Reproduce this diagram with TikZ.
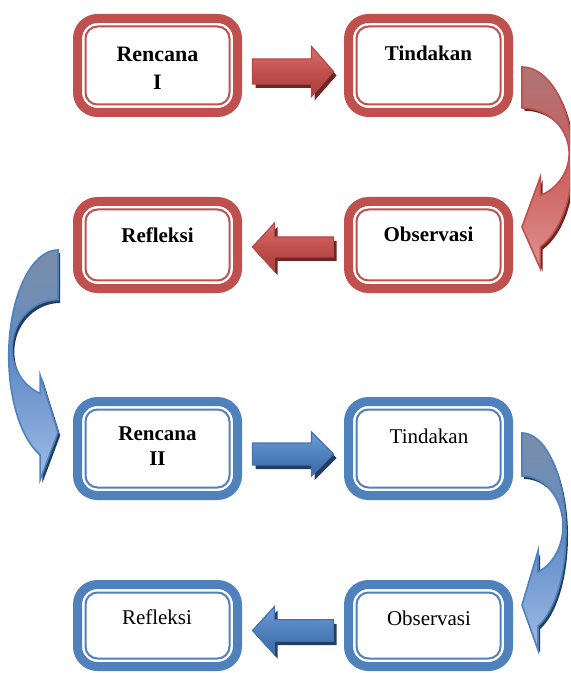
\documentclass[tikz,border=0pt]{standalone}
\usepackage{fontspec}
\setmainfont{Liberation Serif}
\usetikzlibrary{calc}
\definecolor{redb}{HTML}{C0504D}
\definecolor{blueb}{HTML}{4F81BD}
\definecolor{redtop}{HTML}{D7716D}
\definecolor{redbot}{HTML}{A63F3C}
\definecolor{redline}{HTML}{B54744}
\definecolor{redsh}{HTML}{6E2422}
\definecolor{bluetop}{HTML}{6F9CD4}
\definecolor{bluebot}{HTML}{3C6BA5}
\definecolor{blueline}{HTML}{4373AE}
\definecolor{bluesh}{HTML}{213D60}
\definecolor{rctop}{RGB}{174,117,117}
\definecolor{rcmid}{RGB}{203,95,92}
\definecolor{rcbot}{RGB}{222,145,142}
\definecolor{bctop}{RGB}{122,141,168}
\definecolor{bcmid}{RGB}{98,140,200}
\definecolor{bcbot}{RGB}{160,188,228}
\newcommand\tbox[6]{%
  \node[draw=#6, fill=white, line width=4.5pt, rounded corners=10pt, inner sep=0pt, outer sep=0pt, minimum width=#4, minimum height=#5] (#1) at (#2,#3) {};
  \draw[#6, line width=1pt, rounded corners=6pt] ([xshift=4pt,yshift=-4pt]#1.north west) rectangle ([xshift=-4pt,yshift=4pt]#1.south east);
}
\newcommand\sarrowpath[4]{({-40.5*(#4)},{#3-#1}) -- ({18.5*(#4)},{#3-#1}) -- ({18.5*(#4)},{#3-#2}) -- ({40.5*(#4)},{#3}) -- ({18.5*(#4)},{#3+#2}) -- ({18.5*(#4)},{#3+#1}) -- ({-40.5*(#4)},{#3+#1}) -- cycle}
\newcommand\carrowpath[1]{plot[domain=-90:68.67,samples=40] ({44*cos(\x)},{100+100*sin(\x)}) -- (16,217) -- (0,172) -- (16,118) -- plot[domain=67.03:-90,samples=40] ({41*cos(\x)},{93+#1*sin(\x)}) -- cycle}
\tikzset{
  lblb/.style={inner sep=0pt, outer sep=0pt, align=center, font=\fontsize{10.5}{12.5}\selectfont\bfseries},
  lbln/.style={inner sep=0pt, outer sep=0pt, align=center, font=\fontsize{10.5}{12.5}\selectfont},
  redarrow/.style={top color=redtop, bottom color=redbot, middle color=redb, draw=redline, line width=0.6pt},
  bluearrow/.style={top color=bluetop, bottom color=bluebot, middle color=blueb, draw=blueline, line width=0.6pt},
  redcurve/.style={top color=rctop, bottom color=rcbot, middle color=rcmid, draw=redb, line width=0.8pt},
  bluecurve/.style={top color=bctop, bottom color=bcbot, middle color=bcmid, draw=blueb, line width=0.8pt},
}
\begin{document}
\begin{tikzpicture}[x=0.5pt,y=-0.5pt]
\useasboundingbox (0,0) rectangle (570,673);
\begin{scope}
\clip (0,0) rectangle (570,673);
% boxes
\tbox{r1}{157.5}{65.5}{80pt}{47pt}{redb}
\tbox{t1}{428.5}{65.5}{80pt}{47pt}{redb}
\tbox{o1}{428.5}{245}{80pt}{43.5pt}{redb}
\tbox{f1}{157.5}{245}{80pt}{43.5pt}{redb}
\tbox{r2}{157.5}{448.5}{80pt}{47pt}{blueb}
\tbox{t2}{428.5}{448.5}{80pt}{47pt}{blueb}
\tbox{f2}{157.5}{625.5}{80pt}{41pt}{blueb}
\tbox{o2}{428.5}{625.5}{80pt}{41pt}{blueb}
% labels
\node[lblb, font=\fontsize{11}{14}\selectfont\bfseries, anchor=north] (r1l) at (157.5,47.5) {Rencana\\I};
\node[lblb, anchor=base] (t1l) at (428.5,60.7) {Tindakan};
\node[lblb, anchor=base] (o1l) at (428.5,241.7) {Observasi};
\node[lblb, anchor=base] (f1l) at (157.5,242.7) {Refleksi};
\node[lblb, font=\fontsize{10.5}{12.25}\selectfont\bfseries, anchor=north] (r2l) at (157.5,427) {Rencana\\II};
\node[lbln, anchor=base] (t2l) at (429,443) {Tindakan};
\node[lbln, anchor=base] (o2l) at (429,625) {Observasi};
\node[lbln, anchor=base] (f2l) at (157,624.3) {Refleksi};
% straight arrows
\coordinate (m1) at ($(r1.east)!0.5!(t1.west)$);
\coordinate (m2) at ($(f1.east)!0.5!(o1.west)$);
\coordinate (m3) at ($(r2.east)!0.5!(t2.west)$);
\coordinate (m4) at ($(f2.east)!0.5!(o2.west)$);
\begin{scope}[shift={(m1)}]
  \fill[redsh, shift={(3,4)}] \sarrowpath{12.5}{25}{6}{1};
  \shadedraw[redarrow] \sarrowpath{12.5}{25}{6}{1};
\end{scope}
\begin{scope}[shift={(m2)}]
  \fill[redsh, shift={(3,4)}] \sarrowpath{10}{24}{2}{-1};
  \shadedraw[redarrow] \sarrowpath{10}{24}{2}{-1};
\end{scope}
\begin{scope}[shift={(m3)}]
  \fill[bluesh, shift={(3,4)}] \sarrowpath{11}{22}{5.5}{1};
  \shadedraw[bluearrow] \sarrowpath{11}{22}{5.5}{1};
\end{scope}
\begin{scope}[shift={(m4)}]
  \fill[bluesh, shift={(3,4)}] \sarrowpath{10.7}{24}{5}{-1};
  \shadedraw[bluearrow] \sarrowpath{10.7}{24}{5}{-1};
\end{scope}
% curved arrows
\begin{scope}[shift={(t1.east)}, shift={(13.5,1.5)}, xscale=1.15, yscale=0.93]
  \fill[redsh, shift={(2,3)}] \carrowpath{49};
  \shadedraw[redcurve] \carrowpath{49};
\end{scope}
\begin{scope}[shift={(f1.west)}, shift={(-19.5,5)}, xscale=-1.12, yscale=1.06]
  \fill[bluesh, shift={(-2,3)}] \carrowpath{46};
  \shadedraw[bluecurve] \carrowpath{46};
\end{scope}
\begin{scope}[shift={(t2.east)}, shift={(13.5,-15.5)}]
  \fill[bluesh, shift={(2,3)}] \carrowpath{50};
  \shadedraw[bluecurve] \carrowpath{50};
\end{scope}
\end{scope}
\end{tikzpicture}
\end{document}
